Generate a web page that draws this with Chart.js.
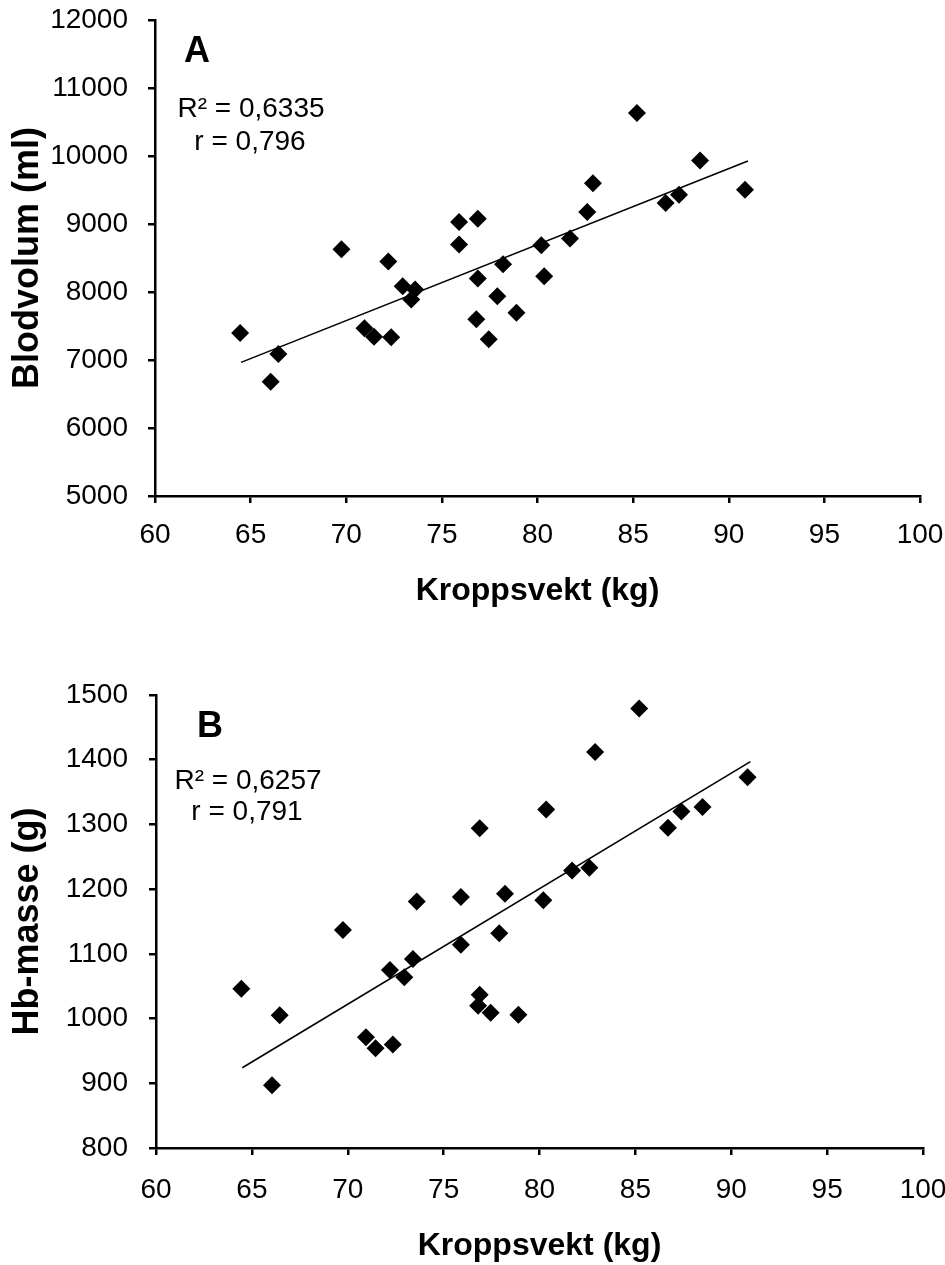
<!DOCTYPE html>
<html>
<head>
<meta charset="utf-8">
<script src="https://cdn.jsdelivr.net/npm/chart.js@4"></script>
<style>
  html, body { margin: 0; padding: 0; background: #fff; }
  .panel { position: absolute; left: 0; width: 945px; }
  #panelA { top: 0; height: 632px; }
  #panelB { top: 632px; height: 633px; }
</style>
</head>
<body>
<div class="panel" id="panelA"><canvas id="chartA" width="945" height="632"></canvas></div>
<div class="panel" id="panelB"><canvas id="chartB" width="945" height="633"></canvas></div>
<script>
// ── Data ────────────────────────────────────────────────────────────────
const bodyWeight = [64.45, 66.05, 66.45, 69.75, 70.95, 71.45, 72.2, 72.35, 72.95, 73.4,
  73.6, 75.9, 75.9, 76.8, 76.88, 76.88, 77.45, 77.9, 78.2, 78.9,
  80.2, 80.35, 81.7, 82.6, 82.9, 85.2, 86.7, 87.4, 88.5, 90.85];

const bloodVolume = [7397, 6680, 7089, 8629, 7466, 7343, 8448, 7334, 8086, 7891,
  8038, 9029, 8697, 7598, 9079, 8199, 7305, 7939, 8409, 7695,
  8687, 8233, 8785, 9175, 9600, 10633, 9307, 9430, 9933, 9504];

const hbMass = [1046, 897, 1005, 1137, 971, 954, 1075, 960, 1064, 1092,
  1181, 1188, 1114, 1020, 1294, 1037, 1009, 1132, 1193, 1006,
  1183, 1323, 1229, 1233, 1412, 1479, 1295, 1320, 1327, 1373];

// trendline end points as drawn in the figure
const trendWeight = [64.5, 91];
const trendVolume = [6965, 9925];
const trendHb = [924, 1397];

const xTicks = { min: 60, max: 100, step: 5 };
const volTicks = { min: 5000, max: 12000, step: 1000 };
const hbTicks = { min: 800, max: 1500, step: 100 };

const FONT = "'Liberation Sans', Arial, Helvetica, sans-serif";

// ── Text notes plugin (panel letter + R² / r) ───────────────────────────
const notesPlugin = {
  id: 'notes',
  afterDatasetsDraw(chart, args, opts) {
    const ctx = chart.ctx;
    ctx.save();
    ctx.fillStyle = '#000';
    ctx.textAlign = 'center';
    ctx.textBaseline = 'middle';
    (opts.items || []).forEach((it) => {
      ctx.font = (it.bold ? 'bold ' : '') + it.size + 'px ' + FONT;
      ctx.fillText(it.text, it.x, it.y);
    });
    ctx.restore();
  },
};

function points(xs, ys) {
  return xs.map((x, i) => ({ x: x, y: ys[i] }));
}

function makeChart(id, cfg) {
  const axisStyle = {
    border: { display: true, color: '#000', width: 2.5 },
    grid: { display: true, drawOnChartArea: false, drawTicks: true, tickLength: 7, color: '#000', lineWidth: 2.5 },
  };
  return new Chart(document.getElementById(id), {
    type: 'scatter',
    data: {
      datasets: [
        {
          type: 'line',
          data: points(trendWeight, cfg.trend),
          borderColor: '#000',
          borderWidth: 1.6,
          pointRadius: 0,
          fill: false,
        },
        {
          data: points(bodyWeight, cfg.values),
          pointStyle: 'rectRot',
          pointRadius: 9,
          pointBackgroundColor: '#000',
          pointBorderColor: '#000',
          pointBorderWidth: 0,
        },
      ],
    },
    options: {
      responsive: false,
      animation: false,
      events: [],
      layout: { padding: { left: 0, right: cfg.right, top: cfg.top, bottom: 0 } },
      plugins: {
        legend: { display: false },
        tooltip: { enabled: false },
        notes: { items: cfg.notes },
      },
      scales: {
        x: {
          type: 'linear',
          min: xTicks.min,
          max: xTicks.max,
          ...axisStyle,
          ticks: {
            stepSize: xTicks.step, color: '#000', padding: cfg.xPad, maxRotation: 0,
            font: { family: FONT, size: 28 },
            callback: (v) => String(v),
          },
          title: {
            display: true,
            text: 'Kroppsvekt (kg)',
            color: '#000',
            padding: { top: 0, bottom: cfg.xTitlePad },
            font: { family: FONT, size: 32, weight: 'bold' },
          },
          afterFit(scale) {
            scale.height = cfg.xHeight;
            scale.paddingLeft = 0;
            scale.paddingRight = 0;
          },
        },
        y: {
          type: 'linear',
          min: cfg.yTicks.min,
          max: cfg.yTicks.max,
          ...axisStyle,
          ticks: {
            stepSize: cfg.yTicks.step, color: '#000', padding: cfg.yPad,
            font: { family: FONT, size: 28 },
            callback: (v) => String(v),
          },
          title: {
            display: true,
            text: cfg.yTitle,
            color: '#000',
            padding: { top: 6, bottom: 0 },
            font: { family: FONT, size: 36, weight: 'bold' },
          },
          afterFit(scale) {
            scale.width = cfg.yWidth;
            scale.paddingTop = 0;
            scale.paddingBottom = 0;
          },
        },
      },
    },
    plugins: [notesPlugin],
  });
}

// ── Panel A ─────────────────────────────────────────────────────────────
makeChart('chartA', {
  values: bloodVolume,
  trend: trendVolume,
  yTicks: volTicks,
  yTitle: 'Blodvolum (ml)',
  top: 20,
  right: 25,
  xHeight: 136,
  xPad: 15,
  xTitlePad: 22,
  yWidth: 155,
  yPad: 20,
  notes: [
    { text: 'A', x: 197, y: 52, size: 36, bold: true },
    { text: 'R² = 0,6335', x: 251, y: 109, size: 28 },
    { text: 'r = 0,796', x: 250, y: 142, size: 28 },
  ],
});

// ── Panel B ─────────────────────────────────────────────────────────────
makeChart('chartB', {
  values: hbMass,
  trend: trendHb,
  yTicks: hbTicks,
  yTitle: 'Hb-masse (g)',
  top: 63,
  right: 22,
  xHeight: 117,
  xPad: 18,
  xTitlePad: 0,
  yWidth: 156,
  yPad: 21,
  notes: [
    { text: 'B', x: 210, y: 95, size: 36, bold: true },
    { text: 'R² = 0,6257', x: 248, y: 149, size: 28 },
    { text: 'r = 0,791', x: 247, y: 180, size: 28 },
  ],
});
</script>
</body>
</html>
